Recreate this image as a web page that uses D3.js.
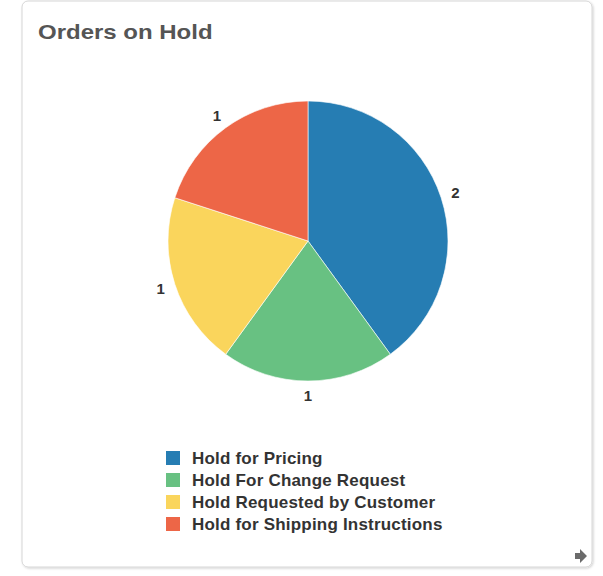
<!DOCTYPE html>
<html>
<head>
<meta charset="utf-8">
<script src="https://cdn.jsdelivr.net/npm/d3@7/dist/d3.min.js"></script>
<style>
  html, body { margin: 0; padding: 0; background: #fff; }
  svg { display: block; font-family: "Liberation Sans", Arial, sans-serif; }
</style>
</head>
<body>
<svg id="chart" width="603" height="576"></svg>
<script>
// Orders on hold, by reason
const categories = [
  "Hold for Pricing",
  "Hold For Change Request",
  "Hold Requested by Customer",
  "Hold for Shipping Instructions"
];
const counts = [2, 1, 1, 1];
const colors = ["#267db3", "#68c182", "#fad55c", "#ed6647"];

const svg = d3.select("#chart");

// Card frame with a soft shadow
const defs = svg.append("defs");
const f = defs.append("filter").attr("id", "shadow").attr("x", "-5%").attr("y", "-5%").attr("width", "110%").attr("height", "110%");
f.append("feDropShadow").attr("dx", 1).attr("dy", 1).attr("stdDeviation", 1.2).attr("flood-color", "#000").attr("flood-opacity", 0.18);

svg.append("rect")
  .attr("x", 22).attr("y", 1).attr("width", 570).attr("height", 566)
  .attr("rx", 6).attr("ry", 6)
  .attr("fill", "#fff").attr("stroke", "#d6d6d6").attr("stroke-width", 1)
  .attr("filter", "url(#shadow)");

svg.append("text")
  .attr("transform", "translate(38,39) scale(1.2,1)")
  .attr("font-size", 20).attr("font-weight", "bold")
  .attr("fill", "#555")
  .text("Orders on Hold");

// Pie
const cx = 308, cy = 241, radius = 140;
const color = d3.scaleOrdinal().domain(categories).range(colors);
const data = categories.map((c, i) => ({ name: c, value: counts[i] }));
const pie = d3.pie().value(d => d.value).sort(null);
const arcs = pie(data);
const arc = d3.arc().innerRadius(0).outerRadius(radius);
const labelArc = d3.arc().innerRadius(radius + 15).outerRadius(radius + 15);

const g = svg.append("g").attr("transform", `translate(${cx},${cy})`);
g.selectAll("path.slice")
  .data(arcs)
  .join("path")
  .attr("class", "slice")
  .attr("d", arc)
  .attr("fill", d => color(d.data.name))
  .attr("stroke", "#fff")
  .attr("stroke-width", 0.6);

g.selectAll("text.value")
  .data(arcs)
  .join("text")
  .attr("class", "value")
  .attr("transform", d => `translate(${labelArc.centroid(d)})`)
  .attr("text-anchor", "middle")
  .attr("dy", "0.35em")
  .attr("font-size", 15).attr("font-weight", "bold")
  .attr("fill", "#333")
  .text(d => d.data.value);

// Legend
const legend = svg.append("g").attr("transform", "translate(166,451)");
const rows = legend.selectAll("g.row")
  .data(categories)
  .join("g")
  .attr("class", "row")
  .attr("transform", (d, i) => `translate(0,${i * 22})`);
rows.append("rect")
  .attr("width", 14).attr("height", 14)
  .attr("fill", d => color(d));
rows.append("text")
  .attr("x", 26).attr("y", 7)
  .attr("dy", "0.35em")
  .attr("font-size", 17).attr("font-weight", "bold")
  .attr("letter-spacing", 0.2)
  .attr("fill", "#333")
  .text(d => d);

// Drill-through arrow in the bottom corner
svg.append("path")
  .attr("d", "M575,553 h5 v-4 l7,7 l-7,7 v-4 h-5 z")
  .attr("fill", "#6b6b6b");
</script>
</body>
</html>
